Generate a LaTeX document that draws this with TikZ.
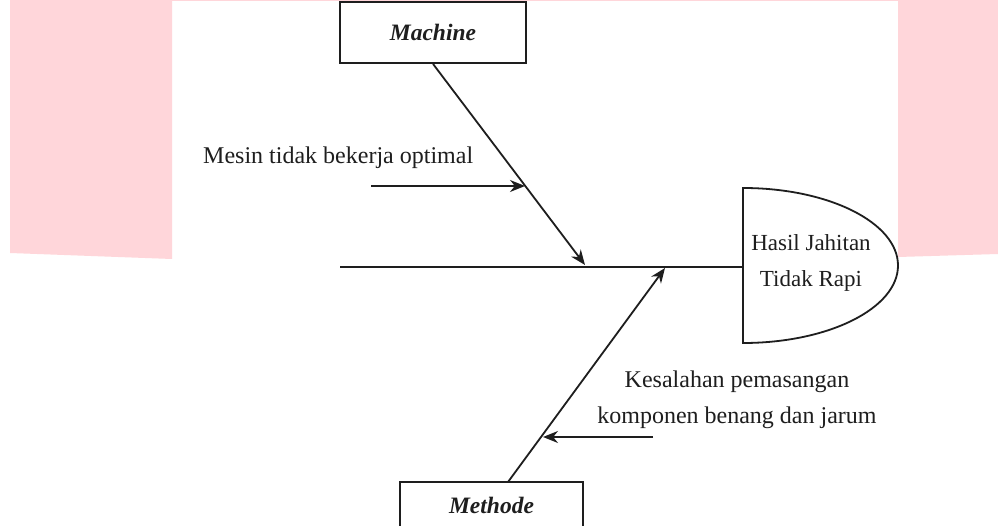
\documentclass[tikz,border=0pt]{standalone}
\usepackage{fontspec}
\setmainfont{Liberation Serif}
\usetikzlibrary{arrows.meta}
\definecolor{bgpink}{HTML}{FFD6DA}
\definecolor{ink}{HTML}{1E1E1E}
\begin{document}
\begin{tikzpicture}[x=1pt,y=-1pt,
  line/.style={draw=ink, line width=1.8pt},
  arr/.style={line, -{Stealth[length=15pt,width=12pt]}},
  lbl/.style={font=\fontsize{24}{36}\selectfont, text=ink, align=center, inner sep=0pt},
  catbox/.style={draw=ink, line width=1.8pt, font=\fontsize{23.5}{27}\selectfont\bfseries\itshape, text=ink, inner sep=0pt}]
\useasboundingbox (0,0) rectangle (998,526);
\clip (0,0) rectangle (998,526);
% background
\fill[white] (0,0) rectangle (998,526);
\fill[bgpink] (10,0) -- (172,0) -- (172,259) -- (10,253) -- cycle;
\fill[bgpink] (898,0) -- (998,0) -- (998,254) -- (898,257) -- cycle;
\fill[bgpink] (172,0) rectangle (898,1.5);
% head
\draw[line, fill=white] (743,188) .. controls (828.6,188) and (898,222.7) .. (898,265.5)
  .. controls (898,308.3) and (828.6,343) .. (743,343) -- cycle;
\node[lbl, font=\fontsize{23}{36}\selectfont] (head) at (811,263) {Hasil Jahitan\\Tidak Rapi};
\coordinate (headw) at (743,267);
% spine
\coordinate (tail) at (340,267);
\draw[line] (tail) -- (headw);
% category boxes
\node[catbox, minimum width=186pt, minimum height=61pt] (mach) at (433,32.5) {Machine};
\node[catbox, minimum width=183pt, minimum height=46pt] (meth) at (491.5,505) {Methode};
% bones
\coordinate (m1) at (585,265);
\coordinate (m2) at (665,268);
\draw[arr] (mach.south) -- (m1);
\coordinate (mb) at (508,482);
\draw[arr] (mb) -- (m2);
% sub causes
\node[lbl, anchor=west] (c1) at (203,158) {Mesin tidak bekerja optimal};
\coordinate (c1s) at (371,186);
\coordinate (c1e) at (525,186);
\draw[arr] (c1s) -- (c1e);
\node[lbl] (c2) at (737,400) {Kesalahan pemasangan\\komponen benang dan jarum};
\coordinate (c2s) at (653,437);
\coordinate (c2e) at (543,437);
\draw[arr] (c2s) -- (c2e);
\end{tikzpicture}
\end{document}
